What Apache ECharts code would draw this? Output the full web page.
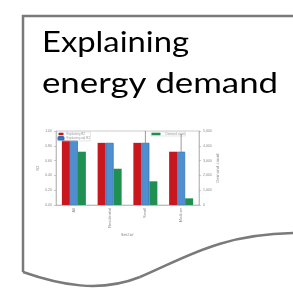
<!DOCTYPE html>
<html>
<head>
<meta charset="utf-8">
<script src="https://cdn.jsdelivr.net/npm/echarts@6/dist/echarts.min.js"></script>
<style>
html, body { margin: 0; padding: 0; background: #fff; }
#chart { width: 293px; height: 291px; }
</style>
</head>
<body>
<div id="chart"></div>
<script>
var categories = ['All', 'Residential', 'Small', 'Medium'];
var explainedR2 = [0.87, 0.84, 0.84, 0.72];
var explainedAdj = [0.87, 0.84, 0.84, 0.72];
var adjUpper = [0.87, 0.84, 1.0, 0.96];
var demandCount = [3600, 2450, 1600, 450];

var myChart = echarts.init(document.getElementById('chart'));
var tiny = { fontSize: 4, color: '#888', fontFamily: 'DejaVu Sans' };
var option = {
    backgroundColor: '#fff',
    animation: false,
    color: ['#c8171e', '#4f8fd0', '#1f9050'],
    graphic: [
        {
            type: 'polyline',
            shape: { points: [[293, 16], [23, 16], [23, 272]] },
            style: { stroke: '#7a7a7a', lineWidth: 2.5, fill: null }
        },
        {
            type: 'bezierCurve',
            shape: { x1: 23, y1: 272, cpx1: 60, cpy1: 285, cpx2: 100, cpy2: 293, x2: 140, y2: 277 },
            style: { stroke: '#7a7a7a', lineWidth: 2.5, fill: null }
        },
        {
            type: 'bezierCurve',
            shape: { x1: 140, y1: 277, cpx1: 185, cpy1: 258, cpx2: 220, cpy2: 234, x2: 295, y2: 233 },
            style: { stroke: '#7a7a7a', lineWidth: 2.5, fill: null }
        },
        {
            type: 'text',
            x: 42,
            y: 43,
            scaleX: 1.13,
            style: {
                text: 'Explaining',
                fontSize: 29,
                fontFamily: 'Lato',
                verticalAlign: 'middle',
                fill: '#000'
            }
        },
        {
            type: 'text',
            x: 42,
            y: 83.6,
            scaleX: 1.2,
            style: {
                text: 'energy demand',
                fontSize: 29,
                fontFamily: 'Lato',
                verticalAlign: 'middle',
                fill: '#000'
            }
        }
    ],
    legend: [
        {
            data: ['Explaining R2', 'Explaining adj R2'],
            orient: 'vertical',
            left: 57,
            top: 132,
            itemWidth: 5,
            itemHeight: 2.5,
            itemGap: 0.5,
            padding: 0.5,
            borderColor: '#ccc',
            borderWidth: 0.5,
            textStyle: { fontSize: 3, color: '#999', padding: [0, 0, 0, -2] }
        },
        {
            data: ['Demand count'],
            left: 151,
            top: 132,
            itemWidth: 9,
            itemHeight: 2.5,
            padding: 0.5,
            borderColor: '#ccc',
            borderWidth: 0.5,
            textStyle: { fontSize: 3, color: '#999' }
        }
    ],
    grid: {
        left: 56,
        top: 131,
        right: 94,
        bottom: 86,
        show: true,
        borderColor: '#999',
        borderWidth: 0.5
    },
    xAxis: {
        type: 'category',
        data: categories,
        name: 'Sector',
        nameLocation: 'middle',
        nameGap: 28,
        nameTextStyle: tiny,
        axisLine: { lineStyle: { color: '#999', width: 0.5 } },
        axisTick: { show: false },
        axisLabel: { rotate: 90, fontSize: 4, color: '#888', margin: 3 }
    },
    yAxis: [
        {
            type: 'value',
            min: 0,
            max: 1,
            interval: 0.2,
            name: 'R2',
            nameLocation: 'middle',
            nameGap: 16,
            nameTextStyle: tiny,
            axisLine: { show: true, lineStyle: { color: '#999', width: 0.5 } },
            axisTick: { show: true, length: 2, lineStyle: { color: '#999', width: 0.5 } },
            splitLine: { show: false },
            axisLabel: { fontSize: 3.5, color: '#888', margin: 4, formatter: function (v) { return v.toFixed(2); } }
        },
        {
            type: 'value',
            min: 0,
            max: 5000,
            interval: 1000,
            name: 'Demand count',
            nameLocation: 'middle',
            nameGap: 17,
            nameTextStyle: tiny,
            axisLine: { show: true, lineStyle: { color: '#999', width: 0.5 } },
            axisTick: { show: true, length: 2, lineStyle: { color: '#999', width: 0.5 } },
            splitLine: { show: false },
            axisLabel: { fontSize: 3.5, color: '#888', margin: 4 }
        }
    ],
    series: [
        {
            name: 'Explaining R2',
            type: 'bar',
            yAxisIndex: 0,
            barWidth: 8,
            barGap: '0%',
            data: explainedR2
        },
        {
            name: 'Explaining adj R2',
            type: 'bar',
            yAxisIndex: 0,
            barWidth: 8,
            barGap: '0%',
            itemStyle: { borderColor: '#2f6fb0', borderWidth: 0.7 },
            data: explainedAdj
        },
        {
            name: 'Demand count',
            type: 'bar',
            yAxisIndex: 1,
            barWidth: 8,
            barGap: '0%',
            data: demandCount
        },
        {
            type: 'custom',
            yAxisIndex: 0,
            z: 5,
            data: explainedAdj.map(function (v, i) { return [i, v, adjUpper[i]]; }),
            renderItem: function (params, api) {
                var low = api.coord([api.value(0), api.value(1)]);
                var high = api.coord([api.value(0), api.value(2)]);
                return {
                    type: 'line',
                    shape: { x1: low[0], y1: low[1], x2: high[0], y2: high[1] },
                    style: { stroke: '#555', lineWidth: 0.6 }
                };
            }
        }
    ]
};
myChart.setOption(option);
</script>
</body>
</html>
